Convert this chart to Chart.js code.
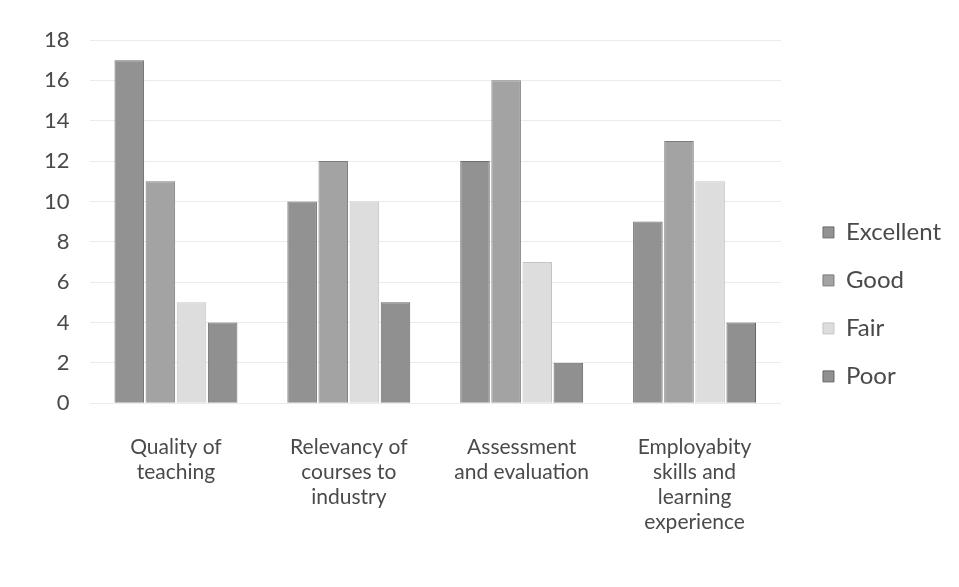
<!DOCTYPE html>
<html>
<head>
<meta charset="utf-8">
<script src="https://cdn.jsdelivr.net/npm/chart.js@4"></script>
<style>
  html, body { margin: 0; padding: 0; background: #fff; }
  #wrap { width: 959px; height: 587px; position: relative; }
</style>
</head>
<body>
<div id="wrap"><canvas id="chart"></canvas></div>
<script>
// categories (multi-line labels as in the picture)
const categories = [
    ['Quality of', 'teaching'],
    ['Relevancy of', 'courses to', 'industry'],
    ['Assessment', 'and evaluation'],
    ['Employabity', 'skills and', 'learning', 'experience']
];

// values per rating
const excellent = [17, 10, 12, 9];
const good      = [11, 12, 16, 13];
const fair      = [5, 10, 7, 11];
const poor      = [4, 5, 2, 4];

const seriesNames = ['Excellent', 'Good', 'Fair', 'Poor'];

const cores = {
    excellent: '#929292',
    good: '#a3a3a3',
    fair: '#dddddd',
    poor: '#909090',
    texto: '#4a4a4a',
    grid: 'rgba(0, 0, 0, 0.08)'
};

const fonte = "Lato, 'Open Sans', sans-serif";

function serie(nome, valores, cor, borda) {
    return {
        label: nome,
        data: valores,
        backgroundColor: cor,
        borderColor: borda,
        borderWidth: 1,
        categoryPercentage: 0.72,
        barPercentage: 0.95
    };
}

const fundoBranco = {
    id: 'fundoBranco',
    beforeDraw(chart) {
        const ctx = chart.ctx;
        ctx.save();
        ctx.fillStyle = '#fff';
        ctx.fillRect(0, 0, chart.width, chart.height);
        ctx.restore();
    }
};

new Chart(document.getElementById('chart'), {
    type: 'bar',
    data: {
        labels: categories,
        datasets: [
            serie(seriesNames[0], excellent, cores.excellent, '#6e6e6e'),
            serie(seriesNames[1], good, cores.good, '#7c7c7c'),
            serie(seriesNames[2], fair, cores.fair, '#c4c4c4'),
            serie(seriesNames[3], poor, cores.poor, '#666666')
        ]
    },
    options: {
        responsive: true,
        maintainAspectRatio: false,
        animation: false,
        layout: { padding: { left: 24, right: 8, top: 40, bottom: 29 } },
        plugins: {
            legend: {
                position: 'right',
                title: { display: true, text: '', font: { size: 9 }, padding: 0 },
                labels: {
                    color: cores.texto,
                    font: { family: fonte, size: 24 },
                    boxWidth: 11,
                    boxHeight: 11,
                    padding: 24
                }
            },
            tooltip: { enabled: false }
        },
        scales: {
            x: {
                grid: { display: false },
                border: { display: false },
                ticks: {
                    color: cores.texto,
                    font: { family: fonte, size: 21, lineHeight: 1.2 },
                    padding: 23,
                    maxRotation: 0
                }
            },
            y: {
                min: 0,
                max: 18,
                ticks: {
                    stepSize: 2,
                    color: cores.texto,
                    font: { family: fonte, size: 22 },
                    padding: 20
                },
                grid: { color: cores.grid, drawTicks: false },
                border: { display: false }
            },
            // empty axis on the right: only keeps the gap before the legend
            espaco: {
                position: 'right',
                grid: { display: false },
                border: { display: false },
                ticks: { display: false },
                afterFit: (scale) => { scale.width = 18; }
            }
        }
    },
    plugins: [fundoBranco]
});
</script>
</body>
</html>
